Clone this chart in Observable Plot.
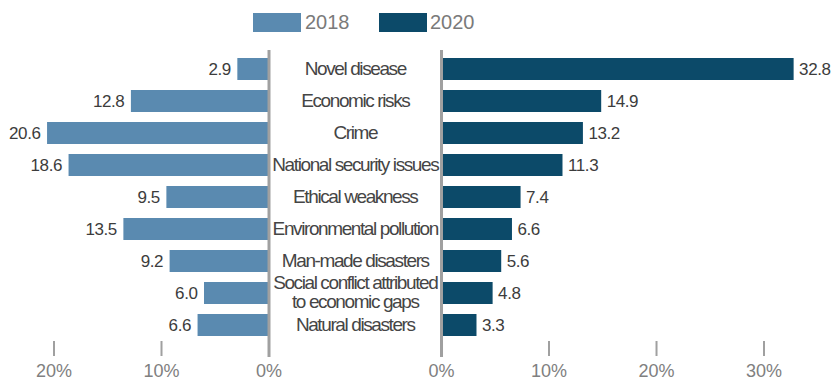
<!DOCTYPE html>
<html>
<head>
<meta charset="utf-8">
<script src="https://cdn.jsdelivr.net/npm/d3@7"></script>
<script src="https://cdn.jsdelivr.net/npm/@observablehq/plot@0.6"></script>
<style>
  html, body { margin: 0; padding: 0; background: #fff; }
  #wrap { width: 831px; height: 382px; position: relative; font-family: "Liberation Sans", Arial, sans-serif; }
  #legend { height: 44px; position: relative; }
  .sw { position: absolute; top: 13px; width: 48px; height: 19px; }
  .lt { position: absolute; top: 10px; font-size: 20px; color: #7a7a7a; font-family: "Liberation Sans", Arial, sans-serif; line-height: 24px; }
</style>
</head>
<body>
<div id="wrap">
  <div id="legend"></div>
  <div id="chart"></div>
</div>
<script>
const categories = [
  "Novel disease",
  "Economic risks",
  "Crime",
  "National security issues",
  "Ethical weakness",
  "Environmental pollution",
  "Man-made disasters",
  "Social conflict attributed\nto economic gaps",
  "Natural disasters"
];
const values2018 = [2.9, 12.8, 20.6, 18.6, 9.5, 13.5, 9.2, 6.0, 6.6];
const values2020 = [32.8, 14.9, 13.2, 11.3, 7.4, 6.6, 5.6, 4.8, 3.3];
const seriesNames = ["2018", "2020"];
const seriesColors = ["#5a8ab0", "#0c4a69"];
const leftTicks = [0, 10, 20];
const rightTicks = [0, 10, 20, 30];

// half-gap between the two panels, in value units
const G = 8.023;

const left = categories.map((c, i) => ({cat: c, v: values2018[i], a: -G, b: -G - values2018[i]}));
const right = categories.map((c, i) => ({cat: c, v: values2020[i], a: G, b: G + values2020[i]}));
const tickPos = [...leftTicks.map(t => -G - t), ...rightTicks.map(t => G + t)];

// legend
const legend = document.getElementById("legend");
const legPos = [[253, 305], [379, 430]];
seriesNames.forEach((s, i) => {
  const sw = document.createElement("div");
  sw.className = "sw"; sw.style.left = legPos[i][0] + "px"; sw.style.background = seriesColors[i];
  legend.appendChild(sw);
  const t = document.createElement("div");
  t.className = "lt"; t.style.left = legPos[i][1] + "px"; t.textContent = s;
  legend.appendChild(t);
});

const chart = Plot.plot({
  width: 831,
  height: 338,
  marginLeft: 0,
  marginRight: 0,
  marginTop: 9,
  marginBottom: 41,
  style: {fontFamily: "'Liberation Sans', Arial, sans-serif", background: "#fff"},
  x: {domain: [-33.0, 44.30], axis: null},
  y: {domain: categories, paddingInner: 0.3125, paddingOuter: 0.15625, axis: null},
  marks: [
    Plot.barX(left, {y: "cat", x1: "a", x2: "b", fill: seriesColors[0]}),
    Plot.barX(right, {y: "cat", x1: "a", x2: "b", fill: seriesColors[1]}),
    Plot.ruleX([-G, G], {stroke: "#a0a0a0", strokeWidth: 3, insetTop: -3, insetBottom: -16}),
    Plot.axisX(tickPos, {
      anchor: "bottom",
      tickSize: 15,
      tickPadding: 8,
      stroke: "#a0a0a0",
      strokeWidth: 2,
      fill: "#808080",
      fontSize: 18,
      tickFormat: d => Math.round(Math.abs(d) - G) + "%",
      label: null
    }),
    Plot.text(left, {y: "cat", x: "b", text: d => d.v.toFixed(1), textAnchor: "end", dx: -7, fontSize: 17, fill: "#3c3c3c"}),
    Plot.text(right, {y: "cat", x: "b", text: d => d.v.toFixed(1), textAnchor: "start", dx: 5, fontSize: 17, fill: "#3c3c3c"}),
    Plot.text(categories, {y: d => d, x: 0, text: d => d, fontSize: 19, lineHeight: 1.0, fill: "#454545", dy: -1})
  ]
});
document.getElementById("chart").appendChild(chart);

// condense the category labels (the reference uses a narrow face)
const catSet = new Set(categories.map(c => c.replace(/\n/g, "")));
d3.select(chart).selectAll("text").each(function () {
  if (catSet.has(this.textContent.replace(/\n/g, ""))) {
    this.style.letterSpacing = "-1.4px";
  } else if (/^\d+\.\d$/.test(this.textContent)) {
    this.style.letterSpacing = "-0.4px";
  }
});
</script>
</body>
</html>
